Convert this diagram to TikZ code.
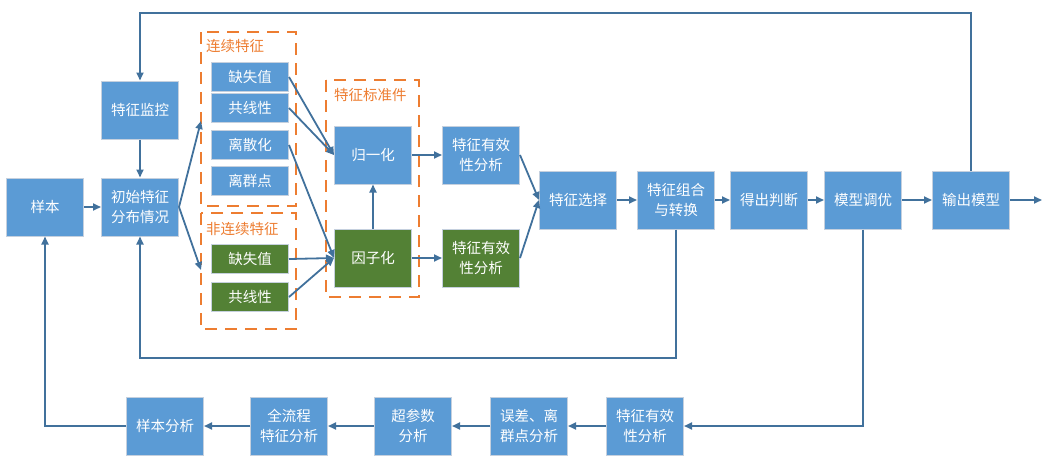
\documentclass[tikz,border=0pt]{standalone}
\usepackage{fontspec}
\newfontfamily\cjk{Noto Sans CJK SC}
\usepackage{tikz}
\usetikzlibrary{positioning, arrows.meta, calc}

\definecolor{boxblue}{HTML}{5B9BD5}
\definecolor{boxgreen}{HTML}{538135}
\definecolor{boxrim}{HTML}{C5D0DE}
\definecolor{linkblue}{HTML}{41719C}
\definecolor{groupline}{HTML}{ED7D31}

\tikzset{
    bigbox/.style={draw=boxrim, line width=1pt, fill=boxblue, text=white,
        minimum width=77pt, minimum height=58pt, inner sep=0pt, align=center,
        font=\cjk\fontsize{14.5}{20}\selectfont},
    smallbox/.style={bigbox, minimum height=29pt},
    greenfill/.style={fill=boxgreen},
    group/.style={draw=groupline, line width=2.5pt, dash pattern=on 12pt off 8pt},
    grouplabel/.style={text=groupline, anchor=west, inner sep=0pt,
        font=\cjk\fontsize{14.5}{18}\selectfont},
    link/.style={draw=linkblue, line width=1.8pt, -{Triangle[length=8pt,width=7pt]}},
}

\begin{document}
\begin{tikzpicture}[x=1pt, y=-1pt]
            \useasboundingbox (0,0) rectangle (1046,464);

            % dashed groups
            \draw[group] (201,32) rectangle (296,206);
            \draw[group] (201,213) rectangle (296,329);
            \draw[group] (326,80) rectangle (419,297);
            \node[grouplabel] (contlabel) at (206,46) {连续特征};
            \node[grouplabel] (disclabel) at (206,229) {非连续特征};
            \node[grouplabel] (stdlabel) at (334,95) {特征标准件};

            % left part
            \node[bigbox] (sample) at (45,207) {样本};
            \node[bigbox] (init) at (140,207) {初始特征\\分布情况};
            \node[bigbox] (monitor) at (140,110) {特征监控};

            \foreach \name/\y/\txt in {cmiss/77/缺失值, ccol/108/共线性, cdisc/145/离散化, cout/181/离群点}{
                \node[smallbox] (\name) at (250,\y) {\txt};
            }
            \foreach \name/\y/\txt in {dmiss/259/缺失值, dcol/297/共线性}{
                \node[smallbox, greenfill] (\name) at (250,\y) {\txt};
            }

            \node[bigbox] (norm) at (373,155) {归一化};
            \node[bigbox, greenfill] (factor) at (373,258) {因子化};
            \node[bigbox] (evalA) at (481,155) {特征有效\\性分析};
            \node[bigbox, greenfill] (evalB) at (481,258) {特征有效\\性分析};

            % main row
            \node[bigbox] (select) at (578,200) {特征选择};
            \node[bigbox] (combine) at (676,200) {特征组合\\与转换};
            \node[bigbox] (judge) at (769,200) {得出判断};
            \node[bigbox] (tune) at (863,200) {模型调优};
            \node[bigbox] (output) at (971,200) {输出模型};

            % bottom row
            \node[bigbox] (beval) at (645,426) {特征有效\\性分析};
            \node[bigbox] (berr) at (529,426) {误差、离\\群点分析};
            \node[bigbox] (bhyper) at (413,426) {超参数\\分析};
            \node[bigbox] (bflow) at (289,426) {全流程\\特征分析};
            \node[bigbox] (bsample) at (165,426) {样本分析};

            \coordinate (cin) at (201,121);
            \coordinate (din) at (201,270);
            \coordinate (exit) at (1042,200);
            \coordinate (topturn) at (140,13);
            \coordinate (lowturn) at (140,358);

            % connectors
            \draw[link] (sample) -- (init);
            \draw[link] (monitor) -- (init);
            \draw[link] (init.east) -- (cin);
            \draw[link] (init.east) -- (din);
            \foreach \from in {cmiss, ccol}{
                \draw[link] (\from.east) -- (norm.west);
            }
            \foreach \from in {cdisc, dmiss, dcol}{
                \draw[link] (\from.east) -- (factor.west);
            }
            \draw[link] (factor) -- (norm);
            \draw[link] (norm) -- (evalA);
            \draw[link] (factor) -- (evalB);
            \draw[link] (evalA.east) -- (select.west);
            \draw[link] (evalB.east) -- (select.west);
            \foreach \a/\b in {select/combine, combine/judge, judge/tune, tune/output}{
                \draw[link] (\a) -- (\b);
            }
            \draw[link] (output) -- (exit);

            % feedback loops
            \draw[link] (output.north) |- (topturn) -- (monitor.north);
            \draw[link] (combine.south) |- (lowturn) -- (init.south);
            \draw[link] (tune.south) |- (beval.east);
            \foreach \a/\b in {beval/berr, berr/bhyper, bhyper/bflow, bflow/bsample}{
                \draw[link] (\a) -- (\b);
            }
            \draw[link] (bsample.west) -| (sample.south);
\end{tikzpicture}
\end{document}
